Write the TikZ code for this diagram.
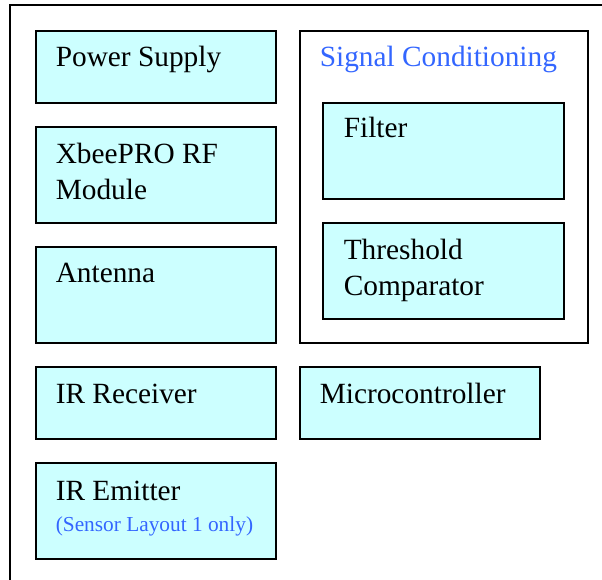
\documentclass[tikz,border=0pt]{standalone}
\usepackage{fontspec}
\setmainfont{Liberation Serif}
\usetikzlibrary{positioning,calc}
\definecolor{ciano}{HTML}{CCFFFF}
\definecolor{azul}{HTML}{3366FF}

\begin{document}
\begin{tikzpicture}[x=0.75pt, y=-0.75pt, line width=1.2pt,
  blk/.style={draw=black, fill=ciano, anchor=north west, inner sep=0pt, minimum width=180pt, minimum height=54pt},
  tall/.style={blk, minimum height=72pt},
  grp/.style={draw=black, fill=white, anchor=north west, inner sep=0pt, minimum width=216pt, minimum height=234pt},
  lbl/.style={anchor=base west, inner sep=0pt, align=left, font=\fontsize{22}{27}\selectfont},
  sub/.style={lbl, text=azul, font=\fontsize{16}{19}\selectfont}]
  \useasboundingbox (0,0) rectangle (602,580);
  \draw (10,580) -- (10,5) -- (602,5);
  % left column
  \node[blk] (pwr) at (35,30) {};
  \node[tall] (xbee) at (35,126) {};
  \node[tall] (ant) at (35,246) {};
  \node[blk] (irrx) at (35,366) {};
  \node[tall] (irtx) at (35,462) {};
  % right column
  \node[grp] (sig) at (299,30) {};
  \node[tall, minimum width=181pt] (filt) at (322,102) {};
  \node[tall, minimum width=181pt] (thr) at (322,222) {};
  \node[blk] (mcu) at (299,366) {};
  % texts (base = last line)
  \node[lbl] (pwrt) at ($(pwr.north west)+(20,37)$) {Power Supply};
  \node[lbl] (xbeet) at ($(xbee.north west)+(20,74)$) {XbeePRO RF\\Module};
  \node[lbl] (antt) at ($(ant.north west)+(20,37)$) {Antenna};
  \node[lbl] (irrxt) at ($(irrx.north west)+(20,37)$) {IR Receiver};
  \node[lbl] (irtxt) at ($(irtx.north west)+(20,38)$) {IR Emitter};
  \node[sub] (irtxs) at ($(irtx.north west)+(20,69)$) {(Sensor Layout 1 only)};
  \node[lbl, text=azul] (sigt) at ($(sig.north west)+(20,37)$) {Signal Conditioning};
  \node[lbl] (filtt) at ($(filt.north west)+(21,36)$) {Filter};
  \node[lbl] (thrt) at ($(thr.north west)+(21,74)$) {Threshold\\Comparator};
  \node[lbl] (mcut) at ($(mcu.north west)+(20,37)$) {Microcontroller};
\end{tikzpicture}
\end{document}
